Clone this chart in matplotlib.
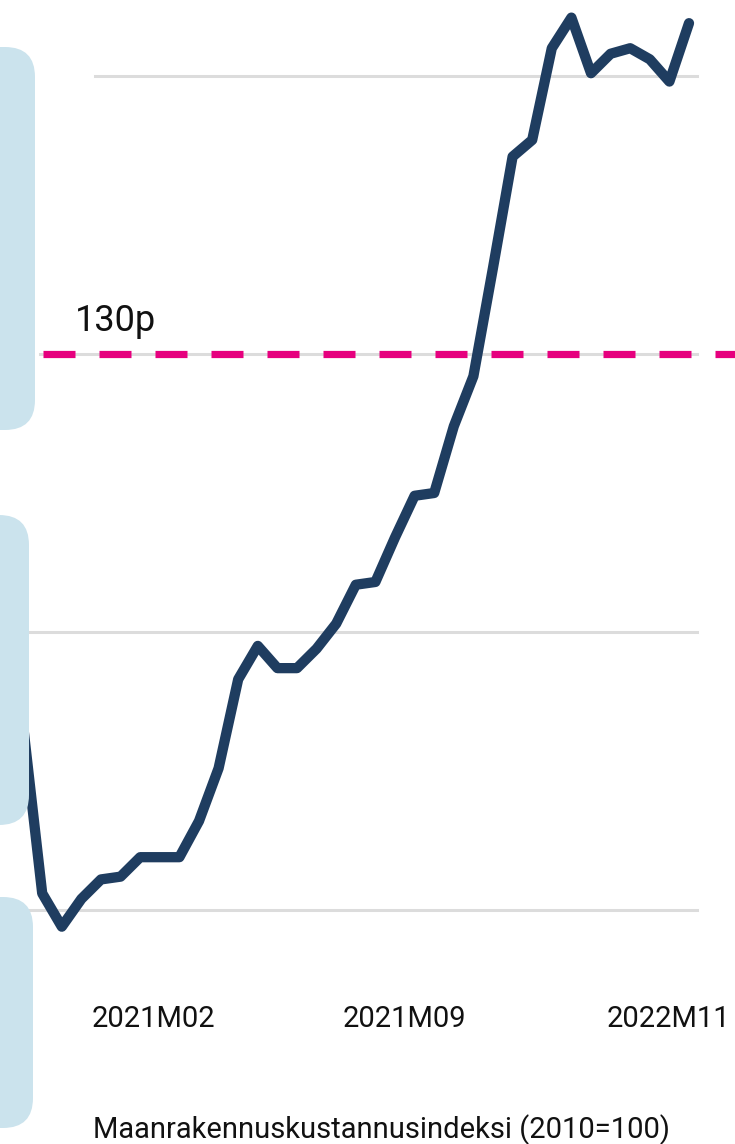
import matplotlib.pyplot as plt
from matplotlib.patches import FancyBboxPatch
from matplotlib.transforms import IdentityTransform

plt.rcParams['font.family'] = ['Roboto', 'DejaVu Sans']

# monthly index values (2010=100)
index_values = [116.8, 110.6, 109.4, 110.4, 111.1, 111.2, 111.9, 111.9, 111.9, 113.2,
                115.1, 118.3, 119.5, 118.7, 118.7, 119.4, 120.3, 121.7, 121.8, 123.4,
                124.9, 125.0, 127.4, 129.2, 133.1, 137.1, 137.7, 141.0, 142.1, 140.1,
                140.8, 141.0, 140.6, 139.8, 141.9]
months = list(range(len(index_values)))

tick_pos = [6.7, 19.46, 32.93]
tick_labels = ['2021M02', '2021M09', '2022M11']
grid_values = [110, 120, 130, 140]
grid_start = [0.0, 0.0, 40 / 735, 95 / 735]
threshold = 130
threshold_label = '130p'
caption = 'Maanrakennuskustannusindeksi (2010=100)'

W, H = 735, 1144
fig = plt.figure(figsize=(W / 100, H / 100), dpi=100)
ax = fig.add_axes([0, 164 / H, 1, 980 / H])
ax.set_xlim(-22.6 / 19.6, (W - 22.6) / 19.6)
ax.set_ylim(110 - 70 / 27.8, 110 + 910 / 27.8)

for v, x0 in zip(grid_values, grid_start):
    ax.axhline(v, xmin=x0, xmax=697 / W, color='#dcdcdc', lw=2.2, zorder=1)

ax.plot(months, index_values, color='#1f3d60', lw=7.4, solid_joinstyle='round',
        solid_capstyle='round', zorder=3)

dash = ax.plot([(43 - 22.6) / 19.6, ax.get_xlim()[1] + 1], [threshold, threshold],
               color='#e6007e', lw=5.2, zorder=4, dash_capstyle='butt')[0]
dash.set_dashes((32 * 0.72 / 5.2, 24 * 0.72 / 5.2))

ax.text((75 - 22.6) / 19.6, threshold + 23 / 27.8, threshold_label, fontsize=26,
        color='#111111', va='baseline', ha='left')

ax.set_xticks(tick_pos)
ax.set_xticklabels(tick_labels, fontsize=21, color='#111111')
ax.tick_params(axis='x', length=0, pad=18)
ax.set_yticks([])
for s in ax.spines.values():
    s.set_visible(False)

boxes = [(35, 47, 430), (29, 515, 825), (33, 897, 1128)]
for right, top, bottom in boxes:
    p = FancyBboxPatch((-60, H - bottom), right + 60, bottom - top,
                       boxstyle='round,pad=0,rounding_size=30',
                       transform=IdentityTransform(), facecolor='#cbe3ed',
                       edgecolor='none', zorder=5)
    fig.add_artist(p)

fig.text(93 / W, (H - 1138) / H, caption, fontsize=21, color='#111111',
         ha='left', va='baseline')

fig.savefig('out.png', dpi=100)
